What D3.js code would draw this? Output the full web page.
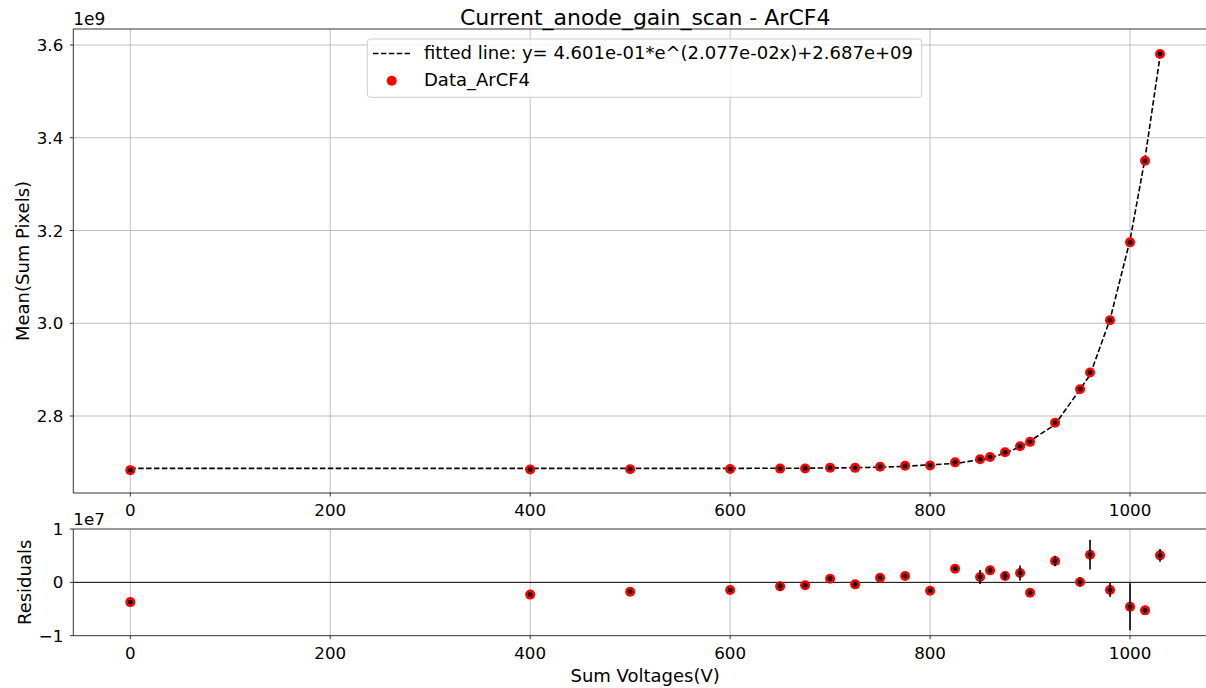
<!DOCTYPE html>
<html>
<head>
<meta charset="utf-8">
<script src="https://cdnjs.cloudflare.com/ajax/libs/d3/7.8.5/d3.min.js"></script>
<style>
  html, body { margin: 0; padding: 0; background: #fff; }
  svg { display: block; }
  text { font-family: "DejaVu Sans", sans-serif; fill: #000; }
</style>
</head>
<body>
<svg id="chart" width="1206" height="688"></svg>
<script>
// ---------------- data ----------------
const voltages = [0, 400, 500, 600, 650, 675, 700, 725, 750, 775, 800, 825, 850, 860, 875, 890, 900, 925, 950, 960, 980, 1000, 1015, 1030];
const meanSumPixels = [2.6833e9, 2.6847e9, 2.68527e9, 2.68568e9, 2.68659e9, 2.68701e9, 2.68864e9, 2.68823e9, 2.69056e9, 2.69270e9,
  2.69344e9, 2.70006e9, 2.7068e9, 2.71145e9, 2.72169e9, 2.73475e9, 2.74426e9, 2.7855e9, 2.85766e9, 2.89369e9,
  3.00676e9, 3.17444e9, 3.35025e9, 3.58056e9];
const fittedValues = [2.6870e9, 2.68700e9, 2.68702e9, 2.68712e9, 2.68734e9, 2.68757e9, 2.68795e9, 2.68860e9, 2.68968e9, 2.69151e9,
  2.6950e9, 2.6975e9, 2.7058e9, 2.7092e9, 2.7205e9, 2.7330e9, 2.7462e9, 2.7815e9, 2.8576e9, 2.8885e9,
  3.0082e9, 3.1790e9, 3.3555e9, 3.5755e9];
const residuals = [-3.7e6, -2.3e6, -1.75e6, -1.44e6, -0.75e6, -0.56e6, 0.69e6, -0.375e6, 0.875e6, 1.19e6,
  -1.56e6, 2.56e6, 1.0e6, 2.25e6, 1.19e6, 1.75e6, -1.94e6, 4.0e6, 0.06e6, 5.19e6,
  -1.44e6, -4.56e6, -5.25e6, 5.06e6];
const errors = [0.4e6, 0.3e6, 0.3e6, 0.3e6, 0.8e6, 0.5e6, 0.4e6, 0.5e6, 0.4e6, 0.4e6,
  0.4e6, 0.5e6, 1.3e6, 0.6e6, 0.75e6, 1.4e6, 0.5e6, 1.0e6, 0.8e6, 2.8e6,
  1.3e6, 4.4e6, 0.5e6, 1.2e6];
const xTicks = [0, 200, 400, 600, 800, 1000];
const yTicksTop = [2.8e9, 3.0e9, 3.2e9, 3.4e9, 3.6e9];
const yTicksRes = [-1e7, 0, 1e7];
const titleText = "Current_anode_gain_scan - ArCF4";
const fitLabel = "fitted line: y= 4.601e-01*e^(2.077e-02x)+2.687e+09";
const dataLabel = "Data_ArCF4";

// ---------------- layout ----------------
const svg = d3.select("#chart");
const L = 73.3, R = 1217;
const topT = 29, topB = 493;
const resT = 529, resB = 635.7;
const FS = 16.7;   // tick labels
const LFS = 18;    // legend / axis labels

const x = d3.scaleLinear().domain([-57, 1087]).range([L, R]);
const yTop = d3.scaleLinear().domain([2.634e9, 3.6345e9]).range([topB, topT]);
const yRes = d3.scaleLinear().domain([-1e7, 1e7]).range([resB, resT]);

function drawPanel(y, b, t, yTicks, yFmt, hGrid) {
  const g = svg.append("g");
  g.selectAll(".vg").data(xTicks).enter().append("line")
    .attr("x1", d => x(d)).attr("x2", d => x(d)).attr("y1", t).attr("y2", b)
    .attr("stroke", "#b0b0b0").attr("stroke-width", 0.8);
  if (hGrid) {
    g.selectAll(".hg").data(yTicks).enter().append("line")
      .attr("x1", L).attr("x2", R).attr("y1", d => y(d)).attr("y2", d => y(d))
      .attr("stroke", "#b0b0b0").attr("stroke-width", 0.8);
  }
  g.selectAll(".xt").data(xTicks).enter().append("line")
    .attr("x1", d => x(d)).attr("x2", d => x(d)).attr("y1", b).attr("y2", b + 3.5)
    .attr("stroke", "#000").attr("stroke-width", 0.8);
  g.selectAll(".xl").data(xTicks).enter().append("text")
    .attr("x", d => x(d)).attr("y", b + 23).attr("text-anchor", "middle")
    .attr("font-size", FS).text(d => d);
  g.selectAll(".yt").data(yTicks).enter().append("line")
    .attr("x1", L - 3.5).attr("x2", L).attr("y1", d => y(d)).attr("y2", d => y(d))
    .attr("stroke", "#000").attr("stroke-width", 0.8);
  g.selectAll(".yl").data(yTicks).enter().append("text")
    .attr("x", L - 10).attr("y", d => y(d)).attr("dy", "0.36em").attr("text-anchor", "end")
    .attr("font-size", FS).text(yFmt);
  return g;
}

const gTop = drawPanel(yTop, topB, topT, yTicksTop, d => (d / 1e9).toFixed(1), true);
const gRes = drawPanel(yRes, resB, resT, yTicksRes, d => d === 0 ? "0" : (d < 0 ? "\u22121" : "1"), false);

gRes.append("line").attr("x1", L).attr("x2", R).attr("y1", yRes(0)).attr("y2", yRes(0))
  .attr("stroke", "#000").attr("stroke-width", 1);

// fitted line
const lineGen = d3.line().x((d, i) => x(voltages[i])).y(d => yTop(d));
gTop.append("path").datum(fittedValues).attr("d", lineGen)
  .attr("fill", "none").attr("stroke", "#000").attr("stroke-width", 1.6)
  .attr("stroke-dasharray", "5.5,2.4");

function drawPoints(g, y, vals) {
  g.selectAll(".pt").data(voltages).enter().append("circle")
    .attr("cx", d => x(d)).attr("cy", (d, i) => y(vals[i])).attr("r", 5)
    .attr("fill", "#ff0000");
  g.selectAll(".eb").data(voltages).enter().append("line")
    .attr("x1", d => x(d)).attr("x2", d => x(d))
    .attr("y1", (d, i) => y(vals[i] - errors[i])).attr("y2", (d, i) => y(vals[i] + errors[i]))
    .attr("stroke", "#000").attr("stroke-width", 1.6);
  g.selectAll(".ct").data(voltages).enter().append("circle")
    .attr("cx", d => x(d)).attr("cy", (d, i) => y(vals[i])).attr("r", 2.4)
    .attr("fill", "#000");
}
drawPoints(gTop, yTop, meanSumPixels);
drawPoints(gRes, yRes, residuals);

// spines
function spine(x1, y1, x2, y2) {
  svg.append("line").attr("x1", x1).attr("x2", x2).attr("y1", y1).attr("y2", y2)
    .attr("stroke", "#000").attr("stroke-width", 0.8);
}
spine(L, topT, L, topB); spine(L, topT, R, topT); spine(L, topB, R, topB);
spine(L, resT, L, resB); spine(L, resT, R, resT); spine(L, resB, R, resB);

// offset texts
svg.append("text").attr("x", L).attr("y", 24.5).attr("font-size", 17).text("1e9");
svg.append("text").attr("x", L).attr("y", 525).attr("font-size", FS).text("1e7");

// title
svg.append("text").attr("x", (L + R) / 2).attr("y", 25).attr("text-anchor", "middle")
  .attr("font-size", 22).text(titleText);

// axis labels
svg.append("text").attr("transform", `translate(28.5,${(topT + topB) / 2}) rotate(-90)`)
  .attr("text-anchor", "middle").attr("font-size", LFS).text("Mean(Sum Pixels)");
svg.append("text").attr("transform", `translate(30.5,${(resT + resB) / 2}) rotate(-90)`)
  .attr("text-anchor", "middle").attr("font-size", LFS).text("Residuals");
svg.append("text").attr("x", (L + R) / 2).attr("y", 682).attr("text-anchor", "middle")
  .attr("font-size", LFS).text("Sum Voltages(V)");

// legend
const lg = svg.append("g");
lg.append("rect").attr("x", 367.3).attr("y", 39).attr("width", 554.4).attr("height", 58.3)
  .attr("rx", 3).attr("fill", "#fff").attr("fill-opacity", 0.8)
  .attr("stroke", "#cccccc").attr("stroke-width", 1);
lg.append("line").attr("x1", 373).attr("x2", 410).attr("y1", 53.5).attr("y2", 53.5)
  .attr("stroke", "#000").attr("stroke-width", 1.6).attr("stroke-dasharray", "5.5,2.4");
lg.append("text").attr("x", 424).attr("y", 58.5).attr("font-size", LFS).text(fitLabel);
lg.append("circle").attr("cx", 391.7).attr("cy", 80.7).attr("r", 5).attr("fill", "#ff0000");
lg.append("text").attr("x", 424).attr("y", 86).attr("font-size", LFS).text(dataLabel);
</script>
</body>
</html>
